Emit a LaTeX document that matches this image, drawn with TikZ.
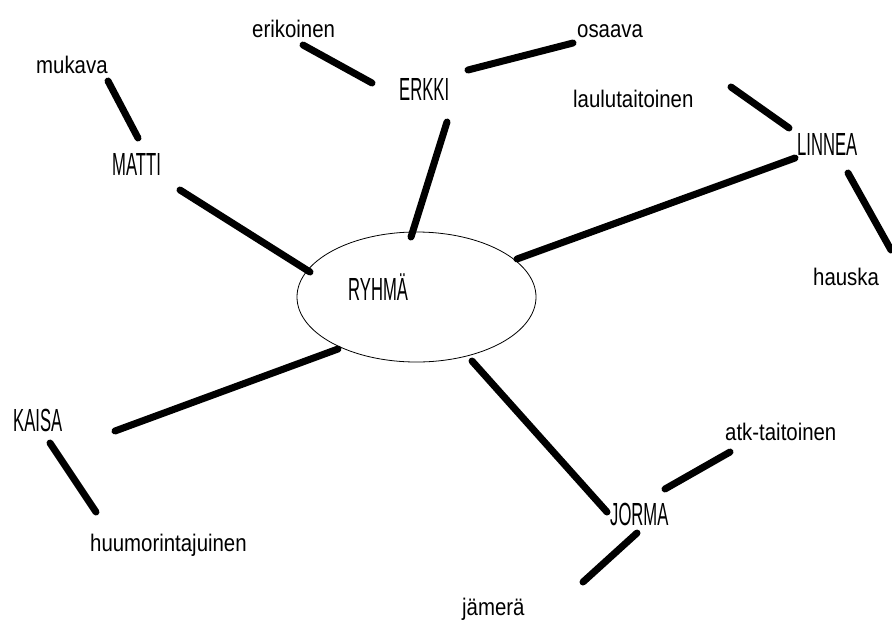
\documentclass[tikz,border=0pt]{standalone}
\usepackage{fontspec}
\setmainfont{Liberation Sans}
\newfontfamily\namefont[FakeStretch=0.52]{Liberation Sans}
\newfontfamily\labelfont[FakeStretch=0.85]{Liberation Sans}
\usetikzlibrary{shapes.geometric}
\begin{document}
\begin{tikzpicture}[x=1pt,y=-1pt,
  person/.style={inner sep=0pt,anchor=base west,font=\namefont\fontsize{32}{34}\selectfont},
  trait/.style={inner sep=0pt,anchor=base west,font=\labelfont\fontsize{24}{26}\selectfont},
  link/.style={line width=7pt,line cap=round,black}]
\useasboundingbox (0,0) rectangle (892,622);
% group ellipse
\node[draw,ellipse,line width=0.8pt,minimum width=239pt,minimum height=130pt,inner sep=0pt] (ell) at (416.5,297) {};
% names
\node[person] (ryhma) at (348,300) {RYHMÄ};
\node[person] (matti) at (112,175) {MATTI};
\node[person] (erkki) at (399,100) {ERKKI};
\node[person] (linnea) at (797,155) {LINNEA};
\node[person] (kaisa) at (13,431) {KAISA};
\node[person] (jorma) at (610,525) {JORMA};
% traits
\node[trait] (erikoinen) at (252,37) {erikoinen};
\node[trait] (mukava) at (36,73) {mukava};
\node[trait] (osaava) at (577,37) {osaava};
\node[trait] (laulu) at (573,107) {laulutaitoinen};
\node[trait] (hauska) at (813,285) {hauska};
\node[trait] (huumori) at (90,551) {huumorintajuinen};
\node[trait] (atk) at (725,440) {atk-taitoinen};
\node[trait] (jamera) at (462,615) {jämerä};
% connector end points
\coordinate (a1) at (303,45);  \coordinate (a2) at (372,83);
\coordinate (b1) at (108,81);  \coordinate (b2) at (138,138);
\coordinate (c1) at (180,190); \coordinate (c2) at (310,272);
\coordinate (d1) at (447,122); \coordinate (d2) at (411,237);
\coordinate (e1) at (468,70);  \coordinate (e2) at (573,43);
\coordinate (f1) at (731,87);  \coordinate (f2) at (789,128);
\coordinate (g1) at (795,158); \coordinate (g2) at (517,259);
\coordinate (h1) at (848,173); \coordinate (h2) at (891,250);
\coordinate (i1) at (115,431); \coordinate (i2) at (338,349);
\coordinate (j1) at (50,443);  \coordinate (j2) at (96,512);
\coordinate (k1) at (472,361); \coordinate (k2) at (607,512);
\coordinate (l1) at (665,489); \coordinate (l2) at (730,452);
\coordinate (m1) at (637,533); \coordinate (m2) at (583,582);
% connectors
\draw[link] (a1) -- (a2);
\draw[link] (b1) -- (b2);
\draw[link] (c1) -- (c2);
\draw[link] (d1) -- (d2);
\draw[link] (e1) -- (e2);
\draw[link] (f1) -- (f2);
\draw[link] (g1) -- (g2);
\draw[link] (h1) -- (h2);
\draw[link] (i1) -- (i2);
\draw[link] (j1) -- (j2);
\draw[link] (k1) -- (k2);
\draw[link] (l1) -- (l2);
\draw[link] (m1) -- (m2);
\end{tikzpicture}
\end{document}
